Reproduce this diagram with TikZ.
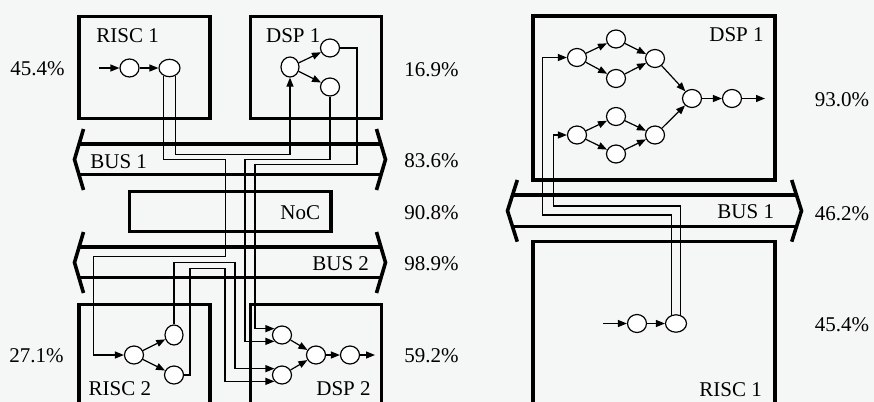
\documentclass[tikz,border=0pt]{standalone}
\usepackage{fontspec}
\setmainfont{Liberation Serif}
\usetikzlibrary{arrows.meta,shapes.geometric}
\definecolor{bgcol}{RGB}{245,246,246}

\begin{document}
\begin{tikzpicture}[x=0.5pt,y=-0.5pt,
  box/.style={line width=1.6pt},
  bus/.style={line width=1.8pt, line join=miter},
  task/.style={ellipse, draw, fill=white, line width=0.6pt, inner sep=0pt,
    minimum width=9.5pt, minimum height=9pt},
  taskw/.style={task, minimum width=10.5pt, minimum height=8.7pt},
  taskt/.style={task, minimum width=9pt, minimum height=10pt},
  flow/.style={line width=0.6pt, -{Triangle[length=4.5pt,width=3.5pt]}},
  lbl/.style={font=\fontsize{10.5pt}{12pt}\selectfont, inner sep=0pt, anchor=base west},
  pct/.style={lbl, anchor=base}]
  \useasboundingbox (0,0) rectangle (874,402);
  \clip (0,0) rectangle (874,402);
  \fill[bgcol] (0,0) rectangle (874,402);

  % left system: processors and NoC
  \draw[box] (79,16.7) rectangle (210,118.3);
  \draw[box] (250.7,16.7) rectangle (381.7,118.3);
  \draw[box] (129.3,191.7) rectangle (331,231.7);
  \draw[box] (79,304.3) rectangle (210,406);
  \draw[box] (250.7,304.3) rectangle (381.7,406);
  \node[lbl] (t-r1) at (96,42.3) {RISC 1};
  \node[lbl] (t-d1) at (265.7,42.3) {DSP 1};
  \node[lbl] (t-noc) at (280,219) {NoC};
  \node[lbl] (t-r2) at (88.3,395) {RISC 2};
  \node[lbl] (t-d2) at (316,395) {DSP 2};

  % bus 1
  \draw[bus] (79.5,144.2) -- (380.5,144.2);
  \draw[bus] (79.5,174.5) -- (380.5,174.5);
  \draw[bus] (83.5,129) -- (74.5,159.5) -- (83.5,190);
  \draw[bus] (376.5,129) -- (385.5,159.5) -- (376.5,190);
  \node[lbl] (t-b1) at (90,168.3) {BUS 1};
  % bus 2
  \draw[bus] (79.5,246.7) -- (380.5,246.7);
  \draw[bus] (79.5,277.3) -- (380.5,277.3);
  \draw[bus] (83.5,232) -- (74.5,262.5) -- (83.5,293);
  \draw[bus] (376.5,232) -- (385.5,262.5) -- (376.5,293);
  \node[lbl] (t-b2) at (312,270) {BUS 2};

  % tasks RISC 1
  \coordinate (r1in) at (99,68);
  \node[task] (r1a) at (129.5,68) {};
  \node[taskw] (r1b) at (169.5,68) {};
  \draw[flow] (r1in) -- (r1a);
  \draw[flow] (r1a) -- (r1b);
  % tasks DSP 1
  \node[taskt] (d1a) at (290,67) {};
  \node[task] (d1b) at (330,48) {};
  \node[task] (d1c) at (330,87) {};
  \draw[flow] (d1a) -- (d1b);
  \draw[flow] (d1a) -- (d1c);
  % tasks RISC 2
  \node[task] (r2a) at (134,355) {};
  \node[taskt] (r2b) at (174,335) {};
  \node[task] (r2c) at (174,375) {};
  \draw[flow] (r2a) -- (r2b);
  \draw[flow] (r2a) -- (r2c);
  % tasks DSP 2
  \node[task] (d2a) at (282,335) {};
  \node[task] (d2b) at (282,375) {};
  \node[task] (d2c) at (316,355) {};
  \node[task] (d2d) at (350,355) {};
  \coordinate (d2out) at (375,355);
  \draw[flow] (d2a) -- (d2c);
  \draw[flow] (d2b) -- (d2c);
  \draw[flow] (d2c) -- (d2d);
  \draw[flow] (d2d) -- (d2out);

  % communications over the buses
  \draw[flow] (r1b.235) |- (225.7,159.3) |- (93.5,256.7) |- (r2a);
  \draw[flow] (r1b.305) |- (290,154.3) -- (d1a);
  \draw[flow] (d1c) |- (245,159.3) |- (d2a.220);
  \draw[flow] (d1b) -| (357,164.3) -- (255,164.3) |- (d2a.140);
  \draw[flow] (r2b) |- (235,262.7) |- (d2b.140);
  \draw[flow] (r2c) -| (190,268.3) -- (225,268.3) |- (d2b.220);

  % load figures
  \node[pct] (u-r1) at (37.5,75) {45.4\%};
  \node[pct] (u-d1) at (431.5,76) {16.9\%};
  \node[pct] (u-b1) at (431.5,167) {83.6\%};
  \node[pct] (u-noc) at (431.5,219.5) {90.8\%};
  \node[pct] (u-b2) at (431.5,270) {98.9\%};
  \node[pct] (u-r2) at (36.5,362) {27.1\%};
  \node[pct] (u-d2) at (431.5,362) {59.2\%};

  % right system
  \draw[box] (533,16) rectangle (775,180);
  \draw[box] (533,241.7) rectangle (775,406);
  \node[lbl] (s-d1) at (709,41.7) {DSP 1};
  \node[lbl] (s-r1) at (699,396) {RISC 1};
  \draw[bus] (513,194.7) -- (796,194.7);
  \draw[bus] (513,226.3) -- (796,226.3);
  \draw[bus] (517.3,180) -- (507.5,210.8) -- (517.3,241.7);
  \draw[bus] (791.7,180) -- (801.5,210.8) -- (791.7,241.7);
  \node[lbl] (s-b1) at (717,218) {BUS 1};

  % tasks DSP 1
  \node[task] (a) at (577,57.5) {};
  \node[task] (b) at (616,39) {};
  \node[task] (c) at (616,78.5) {};
  \node[task] (d) at (655,58.5) {};
  \node[task] (e) at (577,135) {};
  \node[task] (f) at (616,116.5) {};
  \node[task] (g) at (616,154) {};
  \node[task] (h) at (655,135) {};
  \node[task] (m) at (692,98.5) {};
  \node[task] (o) at (732,98.5) {};
  \coordinate (out) at (765,98.5);
  \draw[flow] (a) -- (b);
  \draw[flow] (a) -- (c);
  \draw[flow] (b) -- (d);
  \draw[flow] (c) -- (d);
  \draw[flow] (e) -- (f);
  \draw[flow] (e) -- (g);
  \draw[flow] (f) -- (h);
  \draw[flow] (g) -- (h);
  \draw[flow] (d) -- (m);
  \draw[flow] (h) -- (m);
  \draw[flow] (m) -- (o);
  \draw[flow] (o) -- (out);
  % tasks RISC 1
  \coordinate (rin) at (603,323.5);
  \node[task] (ra) at (637,323.5) {};
  \node[taskw] (rb) at (676,323.5) {};
  \draw[flow] (rin) -- (ra);
  \draw[flow] (ra) -- (rb);
  \draw[flow] (rb.120) |- (542.7,215) |- (a);
  \draw[flow] (rb.60) |- (553.3,206) |- (e);

  \node[pct] (v-d1) at (842,106) {93.0\%};
  \node[pct] (v-b1) at (842,220) {46.2\%};
  \node[pct] (v-r1) at (842,331) {45.4\%};
\end{tikzpicture}
\end{document}
